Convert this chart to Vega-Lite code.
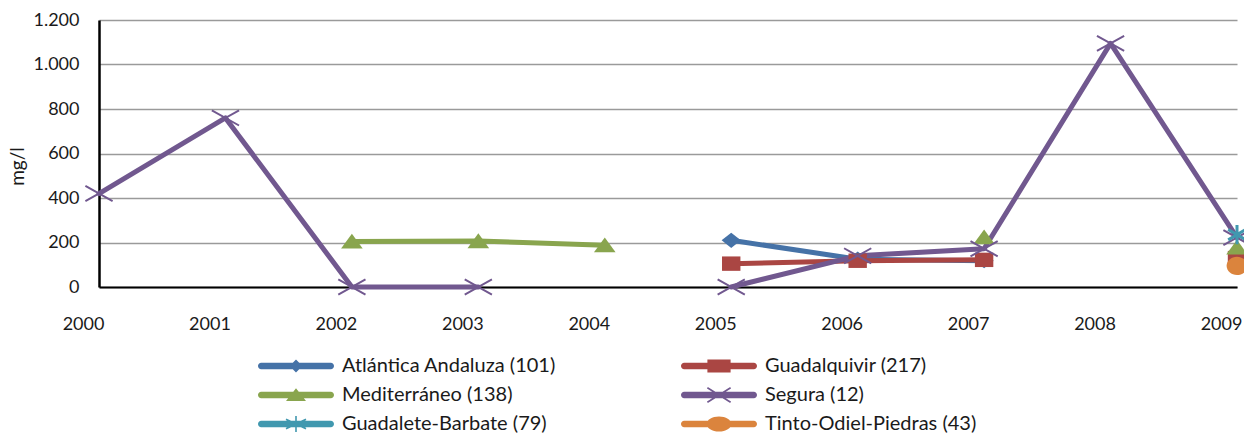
{
  "$schema": "https://vega.github.io/schema/vega-lite/v6.json",
  "width": 1138,
  "height": 267,
  "autosize": "none",
  "padding": {"left": 99, "top": 20, "right": 7, "bottom": 149},
  "background": "white",
  "config": {
    "view": {"stroke": null},
    "font": "Lato",
    "axis": {"labelFont": "Lato", "titleFont": "Lato", "labelColor": "#1a1a1a", "titleColor": "#1a1a1a"},
    "legend": {"labelFont": "Lato"}
  },
  "data": {
    "values": [
      {"year": 2005, "serie": "Atlántica Andaluza (101)", "v": 210},
      {"year": 2006, "serie": "Atlántica Andaluza (101)", "v": 125},
      {"year": 2007, "serie": "Atlántica Andaluza (101)", "v": 118},
      {"year": 2005, "serie": "Guadalquivir (217)", "v": 105},
      {"year": 2006, "serie": "Guadalquivir (217)", "v": 118},
      {"year": 2007, "serie": "Guadalquivir (217)", "v": 122},
      {"year": 2008, "serie": "Guadalquivir (217)", "v": null},
      {"year": 2009, "serie": "Guadalquivir (217)", "v": 130},
      {"year": 2002, "serie": "Mediterráneo (138)", "v": 205},
      {"year": 2003, "serie": "Mediterráneo (138)", "v": 207},
      {"year": 2004, "serie": "Mediterráneo (138)", "v": 188},
      {"year": 2005, "serie": "Mediterráneo (138)", "v": null},
      {"year": 2007, "serie": "Mediterráneo (138)", "v": 224},
      {"year": 2008, "serie": "Mediterráneo (138)", "v": null},
      {"year": 2009, "serie": "Mediterráneo (138)", "v": 178},
      {"year": 2000, "serie": "Segura (12)", "v": 420},
      {"year": 2001, "serie": "Segura (12)", "v": 760},
      {"year": 2002, "serie": "Segura (12)", "v": 0},
      {"year": 2003, "serie": "Segura (12)", "v": 0},
      {"year": 2004, "serie": "Segura (12)", "v": null},
      {"year": 2005, "serie": "Segura (12)", "v": 0},
      {"year": 2006, "serie": "Segura (12)", "v": 140},
      {"year": 2007, "serie": "Segura (12)", "v": 172},
      {"year": 2008, "serie": "Segura (12)", "v": 1095},
      {"year": 2009, "serie": "Segura (12)", "v": 222},
      {"year": 2009, "serie": "Guadalete-Barbate (79)", "v": 235},
      {"year": 2009, "serie": "Tinto-Odiel-Piedras (43)", "v": 95}
    ]
  },
  "encoding": {
    "x": {
      "field": "year", "type": "quantitative",
      "scale": {"domain": [2000, 2009], "nice": false, "zero": false},
      "axis": {
        "title": null, "values": [2000, 2001, 2002, 2003, 2004, 2005, 2006, 2007, 2008, 2009],
        "format": "d", "grid": false, "ticks": false, "labelPadding": 28, "labelOffset": -16,
        "labelFontSize": 18, "domainColor": "#000000", "domainWidth": 2, "labelFlush": false, "labelOverlap": false
      }
    },
    "y": {
      "field": "v", "type": "quantitative",
      "scale": {"domain": [0, 1200], "nice": false},
      "axis": {
        "title": "mg/l", "titleFontSize": 19, "titleFontWeight": "normal", "titleX": -72, "titleY": 146,
        "values": [0, 200, 400, 600, 800, 1000, 1200],
        "labelExpr": "replace(format(datum.value, ','), ',', '.')",
        "grid": true, "gridColor": "#9a9a9a", "gridWidth": 1.6, "ticks": false, "labelPadding": 20,
        "labelFontSize": 18, "domainColor": "#000000", "domainWidth": 2.5
      }
    },
    "color": {
      "field": "serie", "type": "nominal",
      "scale": {
        "domain": ["Atlántica Andaluza (101)", "Mediterráneo (138)", "Guadalete-Barbate (79)", "Guadalquivir (217)", "Segura (12)", "Tinto-Odiel-Piedras (43)"],
        "range": ["#4572A7", "#89A54E", "#4198AF", "#AA4643", "#71588F", "#DB843D"]
      },
      "legend": {
        "title": null, "orient": "none", "legendX": 187, "legendY": 336, "columns": 2,
        "symbolSize": 256, "labelOffset": 36, "rowPadding": 9, "columnPadding": 125,
        "symbolStrokeWidth": 0,
        "labelFontSize": 20, "labelColor": "#1a1a1a", "labelLimit": 400, "symbolOpacity": 1
      }
    }
  },
  "layer": [
    {
      "mark": {"type": "line", "strokeCap": "round", "strokeJoin": "round", "invalid": "break-paths-filter-domains"},
      "encoding": {
        "strokeWidth": {
          "field": "serie", "type": "nominal", "legend": null,
          "scale": {
            "domain": ["Atlántica Andaluza (101)", "Guadalquivir (217)", "Mediterráneo (138)", "Segura (12)", "Guadalete-Barbate (79)", "Tinto-Odiel-Piedras (43)"],
            "range": [5, 5, 5, 7.5, 5, 5]
          }
        }
      }
    },
    {
      "transform": [{"filter": "datum.serie === 'Atlántica Andaluza (101)'"}],
      "mark": {"type": "point", "filled": true, "opacity": 1, "size": 256, "clip": false, "shape": "M0,-0.95L1.2,0L0,0.95L-1.2,0Z"}
    },
    {
      "transform": [{"filter": "datum.serie === 'Guadalquivir (217)'"}],
      "mark": {"type": "point", "filled": true, "opacity": 1, "size": 256, "clip": false, "shape": "M-1.15,-0.9H1.15V0.9H-1.15Z"}
    },
    {
      "transform": [{"filter": "datum.serie === 'Mediterráneo (138)'"}],
      "mark": {"type": "point", "filled": true, "opacity": 1, "size": 256, "clip": false, "shape": "M0,-0.95L1.35,0.9H-1.35Z"}
    },
    {
      "transform": [{"filter": "datum.serie === 'Segura (12)'"}],
      "mark": {"type": "point", "filled": false, "opacity": 1, "size": 256, "strokeWidth": 2, "clip": false, "shape": "M-1.7,-0.95L1.7,0.95M-1.7,0.95L1.7,-0.95"}
    },
    {
      "transform": [{"filter": "datum.serie === 'Guadalete-Barbate (79)'"}],
      "mark": {"type": "point", "filled": false, "opacity": 1, "size": 256, "strokeWidth": 3, "clip": false, "shape": "M-1.1,-0.65L1.1,0.65M-1.1,0.65L1.1,-0.65M0,-1.2V1.2"}
    },
    {
      "transform": [{"filter": "datum.serie === 'Tinto-Odiel-Piedras (43)'"}],
      "mark": {"type": "point", "filled": true, "opacity": 1, "size": 256, "clip": false, "shape": "M-1.3,0A1.3,1.15 0 1,1 1.3,0A1.3,1.15 0 1,1 -1.3,0Z"}
    },
    {
      "transform": [{"filter": "datum.v > 100000"}],
      "mark": {"type": "point", "filled": true, "opacity": 1, "size": 256, "strokeWidth": 0},
      "encoding": {
        "shape": {
          "field": "serie", "type": "nominal",
          "scale": {
            "domain": ["Atlántica Andaluza (101)", "Mediterráneo (138)", "Guadalete-Barbate (79)", "Guadalquivir (217)", "Segura (12)", "Tinto-Odiel-Piedras (43)"],
            "range": [
              "M-4.35,-0.4H4.35A0.4,0.4 0 0,1 4.35,0.4H-4.35A0.4,0.4 0 0,1 -4.35,-0.4Z M0,-0.8L0.8,0L0,0.8L-0.8,0Z",
              "M-4.35,-0.4H4.35A0.4,0.4 0 0,1 4.35,0.4H-4.35A0.4,0.4 0 0,1 -4.35,-0.4Z M0,-0.83L1.25,0.75H-1.25Z",
              "M-4.35,-0.4H4.35A0.4,0.4 0 0,1 4.35,0.4H-4.35A0.4,0.4 0 0,1 -4.35,-0.4Z M-1.207,-0.69L1.293,0.51L1.207,0.69L-1.293,-0.51Z M-1.293,0.51L1.207,-0.69L1.293,-0.51L-1.207,0.69Z M-0.1,-1H0.1V1H-0.1Z",
              "M-4.35,-0.4H4.35A0.4,0.4 0 0,1 4.35,0.4H-4.35A0.4,0.4 0 0,1 -4.35,-0.4Z M-1.45,-0.8H1.45V0.8H-1.45Z",
              "M-4.35,-0.4H4.35A0.4,0.4 0 0,1 4.35,0.4H-4.35A0.4,0.4 0 0,1 -4.35,-0.4Z M-1.397,-0.985L1.503,0.815L1.397,0.985L-1.503,-0.815Z M-1.503,0.815L1.397,-0.985L1.503,-0.815L-1.397,0.985Z",
              "M-4.35,-0.4H4.35A0.4,0.4 0 0,1 4.35,0.4H-4.35A0.4,0.4 0 0,1 -4.35,-0.4Z M-1.55,0A1.55,0.95 0 1,1 1.55,0A1.55,0.95 0 1,1 -1.55,0Z"
            ]
          }
        }
      }
    }
  ]
}
